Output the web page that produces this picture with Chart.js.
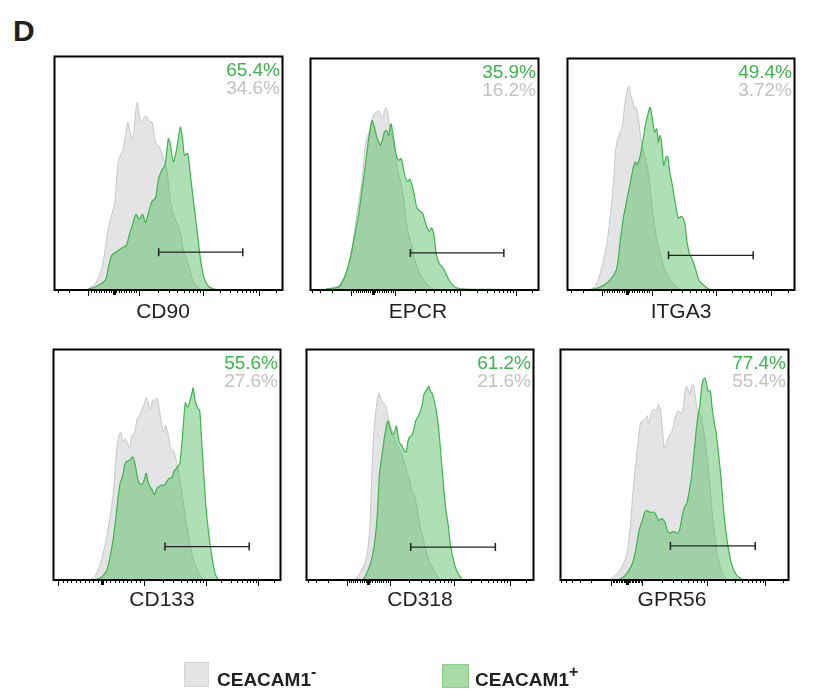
<!DOCTYPE html>
<html>
<head>
<meta charset="utf-8">
<script src="https://cdn.jsdelivr.net/npm/chart.js@4"></script>
<style>
  body { margin: 0; background: #fff; width: 819px; height: 692px; position: relative; overflow: hidden;
         font-family: 'Liberation Sans', Arial, Helvetica, sans-serif; color: #231f20; }
  .box { position: absolute; }
  .pct { position: absolute; text-align: right; font-size: 19px; line-height: 18px; }
  .pct .pos { color: #3cb44a; }
  .pct .neg { color: #c2c2c2; }
  .lab { position: absolute; width: 120px; text-align: center; font-size: 21px; line-height: 20px; }
  .letter { position: absolute; left: 13px; top: 17px; font-size: 30px; font-weight: bold; line-height: 28px; }
  .sw { position: absolute; box-sizing: border-box; }
  .lg { position: absolute; font-size: 19px; font-weight: bold; line-height: 20px; }
  .lg sup { font-size: 16px; position: relative; top: -2px; }
</style>
</head>
<body>
<div class="letter">D</div>
<div id="panels"></div>

<div class="sw" style="left:184px;top:662px;width:25px;height:25px;background:#e4e4e5;border:1px solid #d6d6d6;"></div>
<div class="lg" style="left:217px;top:664px;">CEACAM1<sup>-</sup></div>
<div class="sw" style="left:442px;top:664px;width:27px;height:24px;background:#a6dba3;border:1px solid #8fcf8c;"></div>
<div class="lg" style="left:475px;top:664px;">CEACAM1<sup>+</sup></div>

<script>
// marker names
const markers = ['CD90', 'EPCR', 'ITGA3', 'CD133', 'CD318', 'GPR56'];

// percent positive in the gate: CEACAM1+ / CEACAM1-
const pctPos = ['65.4%', '35.9%', '49.4%', '55.6%', '61.2%', '77.4%'];
const pctNeg = ['34.6%', '16.2%', '3.72%', '27.6%', '21.6%', '55.4%'];

// gates: [start, end, height]
const gates = [
  [45.7, 82.6, 16.2],
  [43.8, 84.8, 16.0],
  [44.5, 81.8, 15.0],
  [49.1, 86.2, 14.5],
  [45.9, 83.2, 14.3],
  [48.2, 85.4, 14.8]
];

// histograms, [channel, % of max] — CEACAM1- (gray) and CEACAM1+ (green)
const cd90Neg = [[13.8,0],[18.0,2.8],[20.9,9.9],[23.7,26.8],[26.5,38.0],[27.9,54.9],[30.1,60.6],[32.2,71.8],[32.9,69.0],[34.3,64.8],[36.2,80.3],[37.9,71.8],[40.0,74.6],[41.4,72.5],[42.8,71.8],[44.3,63.4],[46.4,60.6],[47.8,56.3],[49.2,52.1],[50.6,39.4],[52.1,32.4],[54.9,25.4],[57.0,15.5],[59.1,9.9],[60.6,4.2],[63.4,0.7],[64.8,0]];
const cd90Pos = [[13.8,0],[18.0,1.4],[22.3,4.2],[23.7,9.9],[25.1,14.8],[27.9,16.9],[30.1,18.3],[31.5,19.0],[32.9,23.9],[34.3,28.2],[35.7,32.4],[37.2,30.3],[38.6,32.4],[40.0,28.9],[41.4,33.8],[42.8,38.0],[44.3,39.4],[45.7,47.9],[47.1,51.4],[48.5,53.5],[49.9,64.8],[50.6,63.4],[52.1,54.9],[53.5,59.9],[55.2,69.7],[56.3,63.4],[57.0,57.7],[58.4,58.5],[59.9,46.5],[61.3,35.2],[62.7,23.9],[64.1,12.7],[65.5,5.6],[67.7,1.4],[71.2,0]];

const epcrNeg = [[6.8,0.4],[12.5,1.9],[15.4,6.8],[18.2,18.3],[20.3,32.5],[22.5,46.8],[23.9,61.1],[24.6,65.3],[25.6,68.2],[26.7,72.5],[27.9,76.0],[28.9,76.7],[29.9,77.5],[30.7,76.0],[31.7,73.9],[32.4,77.5],[33.1,78.9],[33.9,76.7],[34.6,71.0],[36.0,65.3],[37.4,58.2],[38.1,52.5],[39.5,46.8],[41.0,38.2],[42.4,26.8],[43.8,21.1],[45.9,12.6],[48.1,6.8],[50.9,2.6],[53.8,0.4],[56.6,0]];
const epcrPos = [[6.8,0.4],[12.5,1.4],[15.4,6.8],[17.5,14.0],[18.9,21.1],[21.1,32.5],[22.5,42.5],[23.9,52.5],[25.3,63.9],[26.0,68.2],[27.0,73.2],[28.2,69.6],[29.3,65.3],[30.0,63.9],[30.7,62.5],[31.7,65.3],[32.4,68.2],[33.4,68.9],[34.3,66.8],[35.3,71.8],[36.0,68.2],[36.7,63.9],[37.8,57.5],[38.8,56.1],[39.8,56.8],[40.7,52.5],[41.7,48.2],[42.7,46.8],[43.5,47.9],[44.5,45.4],[45.5,41.1],[46.7,35.4],[48.1,34.0],[49.2,33.2],[50.2,29.7],[51.2,26.8],[52.3,25.4],[53.1,26.8],[54.1,24.0],[55.2,15.4],[56.6,11.1],[58.0,9.7],[59.5,6.8],[60.9,4.0],[63.7,1.1],[68.0,0.4],[78.0,0.3],[99.3,0]];

const itga3Neg = [[9.7,0],[12.5,1.9],[14.7,8.3],[16.1,14.0],[17.5,21.1],[18.9,32.5],[20.3,46.8],[21.1,59.6],[21.8,63.9],[23.2,68.2],[24.2,71.0],[25.0,78.2],[26.0,85.3],[27.0,88.2],[27.9,83.9],[28.9,81.0],[29.6,78.2],[30.3,78.9],[31.3,73.9],[32.1,66.8],[33.9,58.2],[35.3,52.5],[36.7,41.1],[38.1,29.7],[39.5,21.1],[41.7,12.6],[43.8,6.8],[46.7,2.6],[49.5,0.4],[52.3,0]];
const itga3Pos = [[9.7,0],[13.9,1.1],[16.8,2.6],[19.6,5.4],[21.8,9.7],[23.2,21.1],[24.6,31.1],[26.0,38.2],[27.5,45.4],[28.9,52.5],[29.9,55.3],[30.7,53.9],[31.3,55.3],[32.1,58.2],[33.1,63.9],[34.6,72.5],[35.6,76.7],[36.4,78.9],[37.4,73.9],[38.4,68.2],[39.3,69.6],[40.0,63.9],[40.7,66.8],[41.4,63.9],[42.4,53.9],[43.5,57.5],[44.2,57.5],[45.0,51.1],[45.9,46.8],[47.4,38.2],[48.8,31.1],[50.2,31.8],[51.6,29.0],[52.6,21.1],[53.8,15.4],[55.2,12.6],[56.6,8.3],[58.0,4.0],[60.2,1.9],[62.3,0.4],[66.6,0]];

const cd133Neg = [[16.4,0],[18.5,2.1],[20.7,7.1],[22.8,15.7],[24.9,27.1],[26.4,38.5],[27.8,55.6],[28.8,62.7],[29.6,64.1],[30.6,59.8],[31.6,61.3],[32.5,59.8],[33.5,57.0],[34.5,62.7],[35.6,63.4],[36.8,69.8],[37.7,71.2],[38.7,73.4],[39.9,76.2],[40.9,79.1],[41.7,76.9],[42.7,74.1],[43.7,78.3],[44.4,76.9],[45.6,79.1],[46.6,74.1],[47.4,69.1],[48.4,64.1],[49.4,67.0],[50.6,62.7],[51.6,57.0],[52.7,56.3],[53.7,53.4],[54.8,48.4],[56.3,39.9],[57.7,29.9],[59.1,21.4],[61.3,10.0],[63.4,4.3],[65.5,0.7],[67.0,0]];
const cd133Pos = [[18.5,0],[21.4,1.4],[23.5,4.3],[24.9,10.0],[26.4,18.5],[27.8,29.9],[29.2,41.3],[30.6,45.6],[31.3,49.9],[32.1,51.3],[33.5,52.0],[34.9,53.4],[35.9,50.6],[36.8,45.6],[37.7,42.0],[39.2,41.6],[40.2,44.2],[40.9,46.3],[41.6,42.7],[42.5,40.6],[43.4,39.2],[44.4,37.0],[45.6,39.9],[46.7,40.6],[47.7,41.3],[48.7,41.0],[49.9,42.7],[51.0,44.2],[52.0,44.2],[53.0,47.0],[54.1,48.4],[55.6,50.6],[56.6,59.8],[57.4,69.8],[58.1,76.9],[59.1,74.8],[60.1,77.6],[61.0,81.2],[61.5,83.3],[62.3,78.3],[63.4,74.8],[64.4,73.4],[65.2,61.3],[66.2,45.6],[67.2,31.3],[68.4,19.9],[69.8,10.0],[71.2,2.8],[72.6,0]];

const cd318Neg = [[21.4,0],[24.2,4.0],[26.4,9.7],[27.8,21.1],[28.5,38.3],[29.2,55.4],[29.9,66.9],[30.6,74.0],[31.3,79.0],[32.1,81.1],[32.8,78.3],[33.9,76.9],[34.9,75.4],[35.9,71.1],[37.0,66.9],[38.5,62.6],[39.6,59.0],[40.6,57.6],[41.6,55.4],[42.7,52.6],[44.2,46.9],[45.3,44.0],[46.3,38.3],[47.3,37.6],[48.4,32.6],[49.9,24.0],[51.3,18.3],[52.7,12.6],[54.1,8.3],[56.3,4.0],[58.4,0.4],[60.5,0]];
const cd318Pos = [[24.9,0],[26.4,2.6],[28.5,8.3],[29.9,15.4],[31.1,26.9],[32.1,45.4],[33.0,52.6],[34.2,61.1],[35.2,66.9],[35.9,69.0],[36.8,66.1],[37.7,63.3],[38.7,64.0],[39.6,66.9],[40.2,63.3],[40.9,59.7],[42.0,58.3],[43.0,56.1],[43.9,55.4],[44.6,59.7],[45.3,61.9],[46.3,62.6],[47.3,65.4],[48.1,69.0],[48.9,70.4],[49.9,72.6],[51.0,76.1],[51.7,80.4],[52.4,81.9],[53.1,82.6],[53.8,84.0],[54.6,81.9],[55.3,81.1],[56.3,77.6],[57.3,72.6],[58.4,64.0],[59.1,55.4],[60.1,44.0],[61.3,31.1],[62.4,24.0],[63.4,15.4],[64.8,8.3],[66.2,4.0],[68.4,0.4],[69.8,0]];

const gpr56Neg = [[21.7,0],[24.5,2.4],[26.7,5.3],[28.8,10.2],[30.2,18.8],[31.6,35.8],[33.0,50.0],[34.5,64.2],[35.2,68.5],[36.3,69.2],[37.3,69.9],[38.0,71.3],[38.7,67.8],[39.9,72.7],[40.9,74.1],[42.0,73.4],[43.0,76.3],[44.0,72.7],[44.8,64.2],[45.5,57.1],[46.2,59.2],[47.2,61.4],[48.2,63.5],[49.1,64.9],[50.1,69.9],[51.1,72.7],[51.9,73.4],[52.9,72.0],[53.9,74.9],[54.6,81.3],[55.3,84.1],[56.2,82.0],[56.7,80.5],[57.6,84.1],[58.3,84.8],[59.0,80.5],[60.0,74.1],[60.7,72.7],[61.4,71.3],[62.4,67.0],[63.5,59.9],[64.7,50.0],[65.7,38.6],[66.7,27.3],[67.8,18.8],[68.9,10.2],[70.4,4.5],[72.1,1.0],[73.5,0]];
const gpr56Pos = [[25.2,0],[28.1,1.7],[30.2,4.5],[31.6,7.4],[33.0,13.1],[34.5,21.6],[35.9,25.9],[36.9,29.4],[38.0,30.1],[39.1,29.4],[40.1,29.4],[41.1,29.4],[42.0,28.0],[43.0,25.9],[44.4,26.6],[45.8,25.1],[46.8,21.6],[47.9,20.2],[49.1,20.9],[50.1,20.9],[51.1,20.2],[52.2,21.6],[53.3,27.3],[54.3,31.5],[55.3,33.0],[56.2,37.2],[57.2,42.9],[58.2,51.4],[59.3,62.8],[60.3,71.3],[61.1,75.6],[61.8,82.7],[62.6,86.9],[63.3,87.6],[64.0,85.5],[64.7,82.0],[65.7,82.0],[66.4,75.6],[67.4,68.5],[68.2,64.2],[69.2,55.7],[70.4,44.3],[71.3,33.0],[72.3,23.0],[73.5,14.5],[74.9,7.4],[77.0,2.4],[79.1,0.6],[80.6,0]];

const negSeries = [cd90Neg, epcrNeg, itga3Neg, cd133Neg, cd318Neg, gpr56Neg];
const posSeries = [cd90Pos, epcrPos, itga3Pos, cd133Pos, cd318Pos, gpr56Pos];

// biexponential axis landmarks per panel: [-10^3, 0, 10^3, 10^4, 10^5]
const axisMarks = [
  [14.9, 26.1, 36.9, 65.2, 89.6],
  [17.9, 27.2, 37.1, 65.6, 90.0],
  [15.1, 26.0, 37.1, 65.2, 89.6],
  [2.1, 21.4, 39.9, 67.0, 90.2],
  [17.8, 27.1, 36.8, 65.1, 89.5],
  [22.1, 29.2, 35.9, 64.3, 89.8]
];

// frame boxes on the page: left, top, width, height, label centre, label top
const frames = [
  [51, 53, 235, 237, 163, 301],
  [307, 55, 235, 235, 418, 301],
  [564, 55, 234, 235, 681, 301],
  [50, 346, 234, 234, 162, 589],
  [303, 346, 234, 234, 420, 589],
  [557, 346, 235, 234, 672, 589]
];

function buildTicks(m) {
  const [neg, zero, d3, d4, d5] = m;
  const dec = d4 - d3;
  const t = [];
  [neg, d3, d4, d5].forEach(v => t.push({ v, major: true }));
  t.push({ v: zero, zero: true });
  for (let k = 2; k <= 9; k++) {
    const l = Math.log10(k);
    t.push({ v: d3 + (d4 - d3) * l });
    t.push({ v: d4 + (d5 - d4) * l });
    if (d5 + (d5 - d4) * l < 100) t.push({ v: d5 + (d5 - d4) * l });
    if (neg - dec * l > 0) t.push({ v: neg - dec * l });
  }
  for (let i = 1; i < 10; i++) {
    t.push({ v: neg + (zero - neg) * i / 10 });
    t.push({ v: zero + (d3 - zero) * i / 10 });
  }
  return t;
}

const frameTicks = {
  id: 'frameTicks',
  afterDraw(chart, args, opts) {
    const { ctx, chartArea: a, scales: { x } } = chart;
    ctx.save();
    ctx.strokeStyle = '#000';
    opts.ticks.forEach(t => {
      const px = Math.round(x.getPixelForValue(t.v)) + 0.5;
      const len = t.major ? 6 : (t.zero ? 5 : 3);
      ctx.lineWidth = t.zero ? 3 : 1;
      ctx.beginPath();
      ctx.moveTo(px, a.bottom);
      ctx.lineTo(px, a.bottom + len);
      ctx.stroke();
    });
    ctx.lineWidth = 2;
    ctx.strokeRect(a.left, a.top, a.right - a.left, a.bottom - a.top);
    ctx.restore();
  }
};

const host = document.getElementById('panels');

markers.forEach((name, i) => {
  const [fl, ft, fw, fh, lc, lt] = frames[i];
  const box = document.createElement('div');
  box.className = 'box';
  box.style.left = (fl - 2) + 'px';
  box.style.top = (ft - 2) + 'px';
  box.style.width = (fw + 4) + 'px';
  box.style.height = (fh + 12) + 'px';
  const cv = document.createElement('canvas');
  box.appendChild(cv);
  host.appendChild(box);

  const pct = document.createElement('div');
  pct.className = 'pct';
  pct.style.right = (819 - (fl + fw - 6)) + 'px';
  pct.style.top = (ft + 8) + 'px';
  pct.innerHTML = `<div class="pos">${pctPos[i]}</div><div class="neg">${pctNeg[i]}</div>`;
  host.appendChild(pct);

  const lab = document.createElement('div');
  lab.className = 'lab';
  lab.style.left = (lc - 60) + 'px';
  lab.style.top = lt + 'px';
  lab.textContent = name;
  host.appendChild(lab);

  const g = gates[i];
  new Chart(cv, {
    type: 'line',
    data: {
      datasets: [
        {
          data: [{ x: g[0], y: g[2] }, { x: g[1], y: g[2] }],
          borderColor: '#222',
          borderWidth: 1.3,
          pointStyle: 'line',
          rotation: 90,
          pointRadius: 4,
          pointBorderWidth: 1.5,
          pointBorderColor: '#222',
          fill: false,
          order: 0
        },
        {
          data: posSeries[i].map(([x, y]) => ({ x, y })),
          borderColor: '#3cb44a',
          borderWidth: 1.2,
          backgroundColor: 'rgba(60,180,75,0.41)',
          fill: 'origin',
          pointRadius: 0,
          tension: 0.25,
          order: 1
        },
        {
          data: negSeries[i].map(([x, y]) => ({ x, y })),
          borderColor: '#c6c6c6',
          borderWidth: 1,
          backgroundColor: '#e4e4e6',
          fill: 'origin',
          pointRadius: 0,
          tension: 0.25,
          order: 2
        }
      ]
    },
    options: {
      responsive: true,
      maintainAspectRatio: false,
      animation: false,
      layout: { padding: { left: 2, right: 2, top: 2, bottom: 10 } },
      scales: {
        x: { type: 'linear', min: 0, max: 100, display: false },
        y: { min: 0, max: 100, display: false }
      },
      plugins: {
        legend: { display: false },
        tooltip: { enabled: false },
        frameTicks: { ticks: buildTicks(axisMarks[i]) }
      }
    },
    plugins: [frameTicks]
  });
});
</script>
</body>
</html>
